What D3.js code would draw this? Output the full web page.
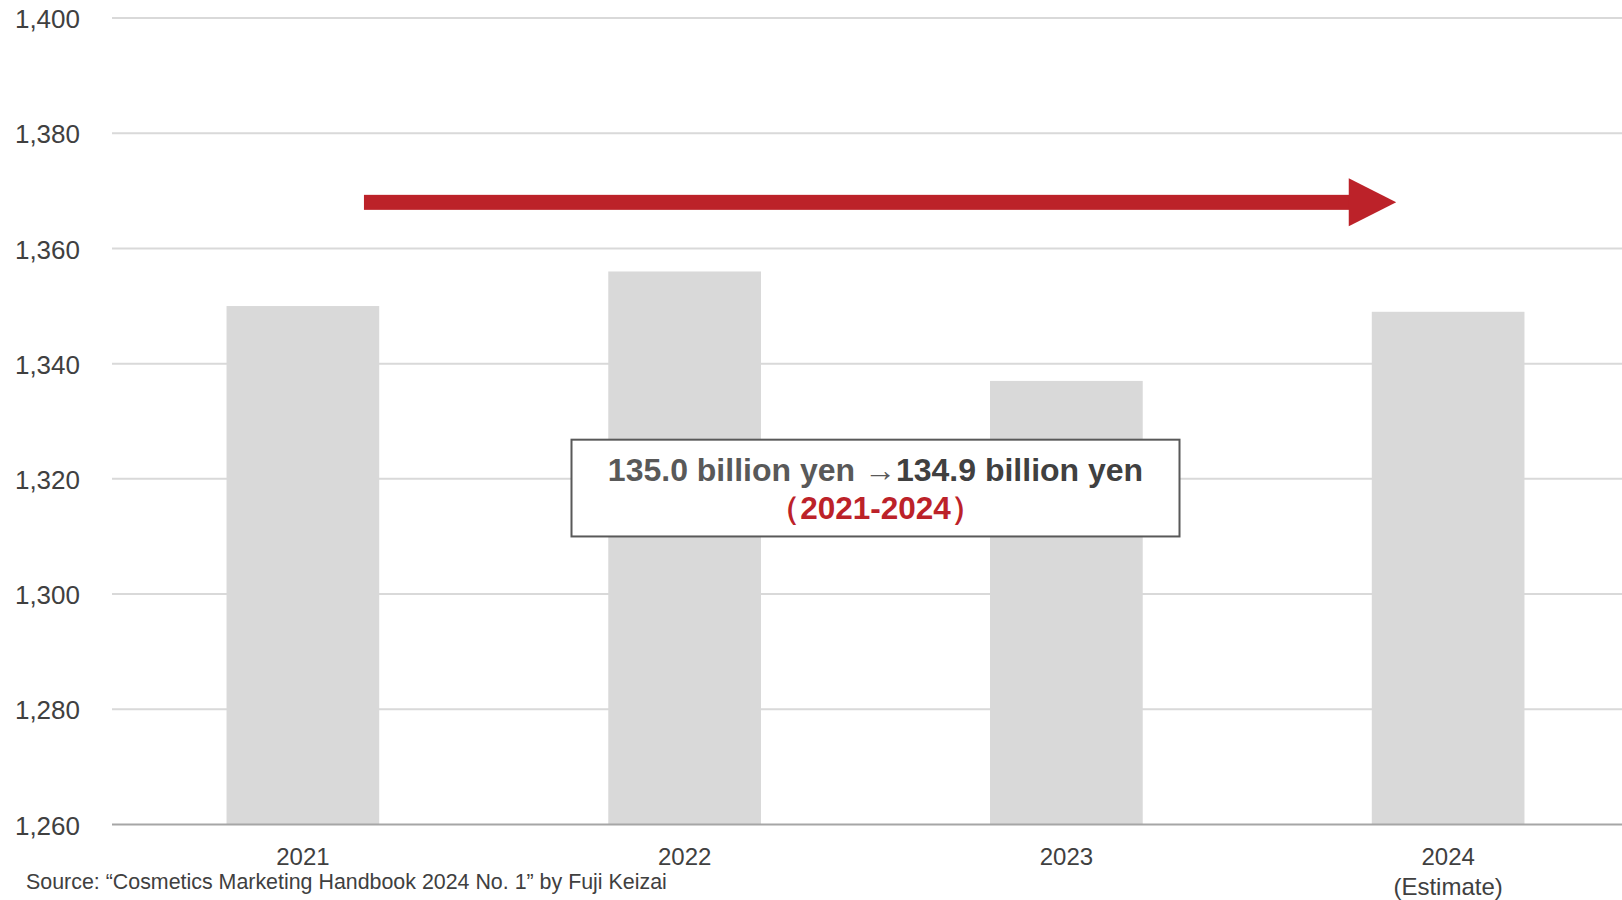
<!DOCTYPE html>
<html>
<head>
<meta charset="utf-8">
<script src="https://cdn.jsdelivr.net/npm/d3@7"></script>
<style>
  html, body { margin: 0; padding: 0; background: #fff; }
  svg { display: block; }
  text { font-family: "Liberation Sans", Arial, sans-serif; }
</style>
</head>
<body>
<svg id="chart" width="1622" height="900"></svg>
<script>
// ---- data ----
const categories = ["2021", "2022", "2023", "2024"];
const categorySubLabels = ["", "", "", "(Estimate)"];
const values = [1350, 1356, 1337, 1349];
const yTicks = [1260, 1280, 1300, 1320, 1340, 1360, 1380, 1400];
const yDomain = [1260, 1400];
const annotationLine1a = "135.0 billion yen \u2192";
const annotationLine1b = "134.9 billion yen";
const annotationLine2 = "\uFF082021-2024\uFF09";
const sourceText = "Source: \u201cCosmetics Marketing Handbook 2024 No. 1\u201d by Fuji Keizai";
const arrowLevel = 1368;          // value level of the trend arrow
const boxRange = [1310, 1326.8];  // value range covered by the annotation box

// ---- layout ----
const svg = d3.select("#chart");
const mLeft = 112, mRight = 1639, mTop = 18, mBottom = 824.5;

const x = d3.scaleBand().domain(categories).range([mLeft, mRight])
  .paddingInner(0.6).paddingOuter(0.3);
const y = d3.scaleLinear().domain(yDomain).range([mBottom, mTop]);

// gridlines
svg.append("g").selectAll("line").data(yTicks.filter(t => t !== yDomain[0]))
  .join("line")
  .attr("x1", mLeft).attr("x2", 1622)
  .attr("y1", d => y(d)).attr("y2", d => y(d))
  .attr("stroke", "#d9d9d9").attr("stroke-width", 2);

// y axis labels
const yAxis = d3.axisLeft(y).tickValues(yTicks).tickFormat(d3.format(",")).tickSize(0).tickPadding(0);
const gy = svg.append("g").attr("transform", `translate(80,0)`).call(yAxis);
gy.select(".domain").remove();
gy.selectAll("text")
  .attr("fill", "#404040")
  .style("font-size", "26px")
  .attr("dy", "0.37em");

// bars
svg.append("g").selectAll("rect").data(categories)
  .join("rect")
  .attr("x", d => x(d))
  .attr("width", x.bandwidth())
  .attr("y", (d, i) => y(values[i]))
  .attr("height", (d, i) => y(yDomain[0]) - y(values[i]))
  .attr("fill", "#d9d9d9");

// baseline
svg.append("line")
  .attr("x1", mLeft).attr("x2", 1622)
  .attr("y1", y(yDomain[0])).attr("y2", y(yDomain[0]))
  .attr("stroke", "#a6a6a6").attr("stroke-width", 2);

// x axis labels
const xAxis = d3.axisBottom(x).tickSize(0).tickPadding(0);
const gx = svg.append("g").attr("transform", `translate(0,${y(yDomain[0])})`).call(xAxis);
gx.select(".domain").remove();
gx.selectAll("text").remove();
gx.selectAll(".tick").each(function(d, i) {
  const t = d3.select(this).append("text")
    .attr("text-anchor", "middle")
    .attr("fill", "#404040")
    .style("font-size", "24px");
  t.append("tspan").attr("x", 0).attr("y", 40).text(d);
  if (categorySubLabels[i]) {
    t.append("tspan").attr("x", 0).attr("y", 70).style("font-size", "24px").text(categorySubLabels[i]);
  }
});

// source
svg.append("text")
  .attr("x", 26).attr("y", 889)
  .attr("fill", "#404040")
  .style("font-size", "21.4px")
  .text(sourceText);

// trend arrow
const red = "#bc2229";
const ax0 = x("2021") + x.bandwidth() * 0.9;
const axBase = x("2024") - 23;
const axTip = x("2024") + x.bandwidth() * 0.16;
const ay = y(arrowLevel);
svg.append("rect")
  .attr("x", ax0).attr("y", ay - 7.5)
  .attr("width", axBase - ax0 + 1).attr("height", 15)
  .attr("fill", red);
svg.append("path")
  .attr("d", `M${axBase},${ay - 24} L${axTip},${ay} L${axBase},${ay + 24} Z`)
  .attr("fill", red);

// annotation box
const cx = (x("2022") + x("2023")) / 2 + x.bandwidth() / 2;
const bx0 = cx - 304, bx1 = cx + 304;
const by0 = y(boxRange[1]), by1 = y(boxRange[0]);
svg.append("rect")
  .attr("x", bx0).attr("y", by0)
  .attr("width", bx1 - bx0).attr("height", by1 - by0)
  .attr("fill", "#fff")
  .attr("stroke", "#595959").attr("stroke-width", 2);

const t1 = svg.append("text")
  .attr("x", cx).attr("y", by0 + 41)
  .attr("text-anchor", "middle")
  .style("font-size", "32px").style("font-weight", "bold");
t1.append("tspan").attr("fill", "#595959").text(annotationLine1a);
t1.append("tspan").attr("fill", "#404040").text(annotationLine1b);

svg.append("text")
  .attr("x", cx).attr("y", by0 + 79)
  .attr("text-anchor", "middle")
  .attr("fill", red)
  .style("font-size", "31.5px").style("font-weight", "bold")
  .text(annotationLine2);
</script>
</body>
</html>
